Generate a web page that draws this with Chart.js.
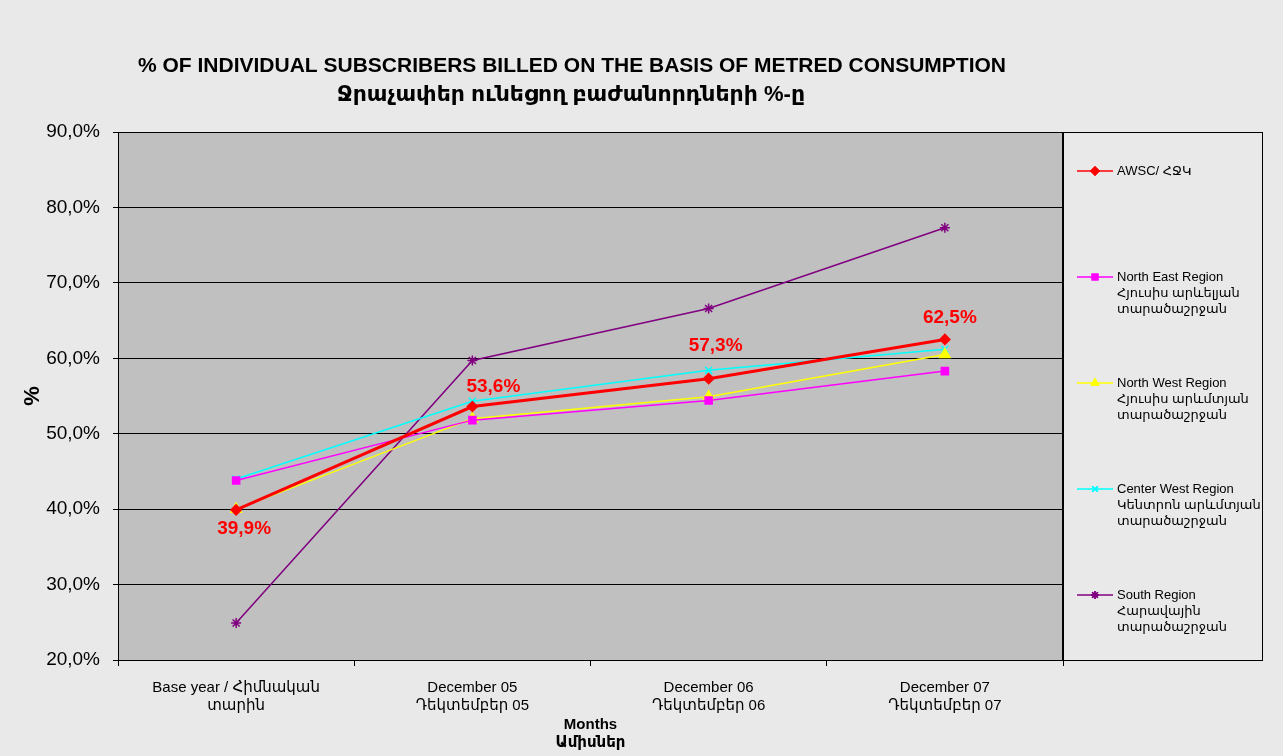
<!DOCTYPE html>
<html>
<head>
<meta charset="utf-8">
<script src="https://cdn.jsdelivr.net/npm/chart.js@4"></script>
<style>
  html, body { margin: 0; padding: 0; background: #e9e9e9; }
  #wrap { width: 1283px; height: 756px; position: relative; }
</style>
</head>
<body>
<div id="wrap"><canvas id="meteredChart" width="1283" height="756"></canvas></div>
<script>
// chart data
const categories = [
    ['Base year / Հիմնական', 'տարին'],
    ['December 05', 'Դեկտեմբեր 05'],
    ['December 06', 'Դեկտեմբեր 06'],
    ['December 07', 'Դեկտեմբեր 07']
];
const awscValues = [39.9, 53.6, 57.3, 62.5];
const northEastValues = [43.8, 51.8, 54.4, 58.3];
const northWestValues = [40.0, 52.0, 54.9, 60.5];
const centerWestValues = [44.0, 54.3, 58.4, 61.2];
const southValues = [24.9, 59.7, 66.6, 77.3];
const yTicks = [20, 30, 40, 50, 60, 70, 80, 90];

const titleLines = [
    '% OF INDIVIDUAL SUBSCRIBERS BILLED ON THE BASIS OF METRED CONSUMPTION',
    'Ջրաչափեր ունեցող բաժանորդների %-ը'
];
const legendLabels = [
    ['AWSC/ ՀՋԿ'],
    ['North East Region', 'Հյուսիս արևելյան', 'տարածաշրջան'],
    ['North West Region', 'Հյուսիս արևմտյան', 'տարածաշրջան'],
    ['Center West Region', 'Կենտրոն արևմտյան', 'տարածաշրջան'],
    ['South Region', 'Հարավային', 'տարածաշրջան']
];

const FONT = "'Liberation Sans', Arial, 'DejaVu Sans', sans-serif";

function fmtPct(v) {
    return v.toFixed(1).replace('.', ',') + '%';
}

// grey plot background + frame
const plotFrame = {
    id: 'plotFrame',
    beforeDraw(chart) {
        const a = chart.chartArea, ctx = chart.ctx;
        ctx.save();
        ctx.fillStyle = '#c0c0c0';
        ctx.fillRect(a.left, a.top, a.right - a.left, a.bottom - a.top);
        ctx.restore();
    },
    afterDraw(chart) {
        const a = chart.chartArea, ctx = chart.ctx;
        ctx.save();
        ctx.strokeStyle = '#000';
        ctx.lineWidth = 1;
        ctx.strokeRect(a.left + 0.5, a.top + 0.5, a.right - a.left, a.bottom - a.top);
        ctx.restore();
    }
};

// two line title
const titleDraw = {
    id: 'titleDraw',
    afterDraw(chart) {
        const ctx = chart.ctx;
        ctx.save();
        ctx.fillStyle = '#000';
        ctx.textAlign = 'center';
        ctx.textBaseline = 'middle';
        ctx.font = 'bold 21px ' + FONT;
        ctx.fillText(titleLines[0], 572, 66);
        ctx.font = 'bold 22px ' + FONT;
        ctx.fillText(titleLines[1], 571, 95);
        ctx.restore();
    }
};

// value labels on the AWSC line
const labelOffsets = [[8, 19], [21, -20], [7, -33], [5, -22]];
const awscLabels = {
    id: 'awscLabels',
    afterDatasetsDraw(chart) {
        const ctx = chart.ctx;
        const meta = chart.getDatasetMeta(0);
        ctx.save();
        ctx.fillStyle = '#ff0000';
        ctx.font = 'bold 19px ' + FONT;
        ctx.textAlign = 'center';
        ctx.textBaseline = 'middle';
        meta.data.forEach(function(pt, i) {
            ctx.fillText(fmtPct(awscValues[i]), pt.x + labelOffsets[i][0], pt.y + labelOffsets[i][1]);
        });
        ctx.restore();
    }
};

// boxed legend on the right
const sideLegend = {
    id: 'sideLegend',
    afterDraw(chart) {
        const ctx = chart.ctx;
        const a = chart.chartArea;
        const x0 = a.right - 1, y0 = a.top, w = 200, h = a.bottom - a.top;
        ctx.save();
        ctx.strokeStyle = '#000';
        ctx.lineWidth = 1;
        ctx.strokeRect(x0 + 0.5, y0 + 0.5, w, h);
        chart.data.datasets.forEach(function(ds, i) {
            const y = 171 + i * 106;
            ctx.strokeStyle = ds.borderColor;
            ctx.lineWidth = 1.5;
            ctx.beginPath();
            ctx.moveTo(x0 + 15, y);
            ctx.lineTo(x0 + 51, y);
            ctx.stroke();
            Chart.helpers.drawPoint(ctx, {
                pointStyle: ds.pointStyle,
                radius: 4,
                borderWidth: 1.2,
                rotation: 0
            }, x0 + 33, y);
            ctx.fillStyle = ds.pointBackgroundColor;
            ctx.strokeStyle = ds.pointBorderColor;
            ctx.fill();
            ctx.stroke();
            ctx.fillStyle = '#000';
            ctx.font = '13px ' + FONT;
            ctx.textAlign = 'left';
            ctx.textBaseline = 'middle';
            legendLabels[i].forEach(function(t, j) {
                ctx.fillText(t, x0 + 55, y + j * 16);
            });
        });
        ctx.restore();
    }
};

function series(label, data, color, width, style, radius) {
    return {
        label: label,
        data: data,
        borderColor: color,
        backgroundColor: color,
        pointBackgroundColor: color,
        pointBorderColor: color,
        borderWidth: width,
        pointStyle: style,
        pointRadius: radius,
        pointHoverRadius: radius,
        pointBorderWidth: 1.5,
        tension: 0,
        fill: false
    };
}

new Chart(document.getElementById('meteredChart'), {
    type: 'line',
    data: {
        labels: categories,
        datasets: [
            series('AWSC', awscValues, '#ff0000', 3, 'rectRot', 5),
            series('North East Region', northEastValues, '#ff00ff', 1.5, 'rect', 5),
            series('North West Region', northWestValues, '#ffff00', 1.5, 'triangle', 6),
            series('Center West Region', centerWestValues, '#00ffff', 1.5, 'crossRot', 5),
            series('South Region', southValues, '#800080', 1.5, 'star', 5)
        ]
    },
    options: {
        responsive: false,
        animation: false,
        layout: { padding: { left: 0, right: 220, top: 132, bottom: 0 } },
        plugins: {
            legend: { display: false },
            title: { display: false },
            tooltip: { enabled: false }
        },
        scales: {
            x: {
                offset: true,
                grid: {
                    offset: true,
                    drawOnChartArea: false,
                    color: '#000',
                    tickLength: 6,
                    tickColor: '#000'
                },
                border: { color: '#000' },
                ticks: {
                    color: '#000',
                    font: { family: FONT, size: 15 },
                    padding: 13,
                    maxRotation: 0,
                    autoSkip: false
                },
                title: {
                    display: true,
                    text: ['Months', 'Ամիսներ'],
                    color: '#000',
                    font: { family: FONT, size: 15, weight: 'bold' },
                    padding: { top: 0, bottom: 4 }
                },
                afterFit(scale) { scale.height = 96; }
            },
            y: {
                min: 20,
                max: 90,
                afterBuildTicks(scale) {
                    scale.ticks = yTicks.map(function(v) { return { value: v }; });
                },
                grid: {
                    color: '#000',
                    lineWidth: 1,
                    tickLength: 5,
                    tickColor: '#000'
                },
                border: { color: '#000' },
                ticks: {
                    color: '#000',
                    font: { family: FONT, size: 19 },
                    padding: 13,
                    callback: function(value) { return fmtPct(value); }
                },
                title: {
                    display: true,
                    text: '%',
                    color: '#000',
                    font: { family: FONT, size: 22, weight: 'bold' },
                    padding: { top: 20, bottom: 0 }
                },
                afterFit(scale) { scale.width = 118; }
            }
        }
    },
    plugins: [plotFrame, titleDraw, awscLabels, sideLegend]
});
</script>
</body>
</html>
